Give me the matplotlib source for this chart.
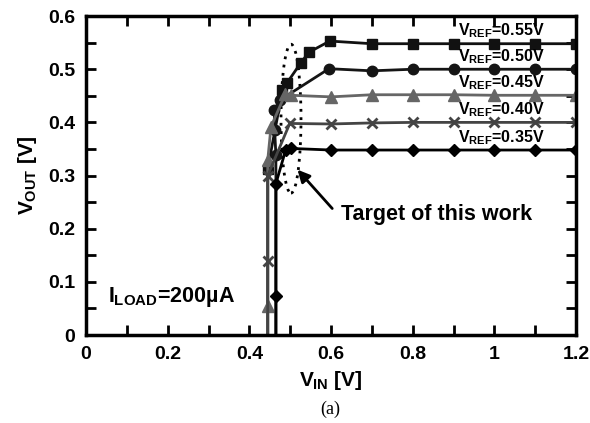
import numpy as np
import matplotlib
matplotlib.use("Agg")
import matplotlib.pyplot as plt
from matplotlib.patches import Ellipse

plt.rcParams["font.family"] = ["Liberation Sans", "DejaVu Sans"]
plt.rcParams["font.weight"] = "bold"
plt.rcParams["mathtext.fontset"] = "custom"
plt.rcParams["mathtext.rm"] = "Liberation Sans:bold"
plt.rcParams["mathtext.it"] = "Liberation Sans:bold"
plt.rcParams["mathtext.bf"] = "Liberation Sans:bold"

# Courbes V_OUT(V_IN), pour chaque V_REF
vin_055 = [0.445, 0.445, 0.481, 0.492, 0.526, 0.546, 0.597, 0.7, 0.8, 0.9, 1.0, 1.1, 1.2]
vout_055 = [-0.05, 0.313, 0.460, 0.474, 0.512, 0.532, 0.553, 0.548, 0.548, 0.548, 0.548, 0.548, 0.548]

vin_050 = [0.465, 0.465, 0.462, 0.461, 0.475, 0.595, 0.7, 0.8, 0.9, 1.0, 1.1, 1.2]
vout_050 = [-0.05, 0.338, 0.385, 0.423, 0.442, 0.501, 0.497, 0.500, 0.500, 0.500, 0.500, 0.500]

vin_045 = [0.445, 0.445, 0.445, 0.453, 0.488, 0.502, 0.6, 0.7, 0.8, 0.9, 1.0, 1.1, 1.2]
vout_045 = [-0.05, 0.055, 0.329, 0.392, 0.453, 0.451, 0.448, 0.452, 0.452, 0.452, 0.451, 0.451, 0.451]

vin_040 = [0.445, 0.445, 0.445, 0.499, 0.6, 0.7, 0.8, 0.9, 1.0, 1.1, 1.2]
vout_040 = [-0.05, 0.140, 0.300, 0.398, 0.397, 0.399, 0.400, 0.400, 0.400, 0.400, 0.400]

vin_035 = [0.465, 0.465, 0.465, 0.489, 0.502, 0.6, 0.7, 0.8, 0.9, 1.0, 1.1, 1.2]
vout_035 = [-0.05, 0.074, 0.285, 0.348, 0.351, 0.348, 0.348, 0.348, 0.348, 0.348, 0.348, 0.348]

vref_labels = ["0.55V", "0.50V", "0.45V", "0.40V", "0.35V"]
vref_levels = [0.548, 0.500, 0.451, 0.400, 0.348]

xticks = [0, 0.2, 0.4, 0.6, 0.8, 1.0, 1.2]
xticklabels = ["0", "0.2", "0.4", "0.6", "0.8", "1", "1.2"]
yticks = [0, 0.1, 0.2, 0.3, 0.4, 0.5, 0.6]
yticklabels = ["0", "0.1", "0.2", "0.3", "0.4", "0.5", "0.6"]

fig = plt.figure(figsize=(5.9, 4.23), dpi=100)
ax = fig.add_axes([0.1458, 0.208, 0.8305, 0.754])

ax.plot(vin_055, vout_055, "s-", color="#111111", lw=2, ms=7)
ax.plot(vin_050, vout_050, "o-", color="#151515", lw=2, ms=7.5)
ax.plot(vin_045, vout_045, "^-", color="#666666", lw=2, ms=8)
ax.plot(vin_040, vout_040, "x-", color="#444444", lw=2, ms=7, mew=2)
ax.plot(vin_035, vout_035, "D-", color="#000000", lw=2, ms=6)

for lab, lev in zip(vref_labels, vref_levels):
    ax.text(0.912, lev + 0.015, "$V_{REF}$=" + lab, fontsize=11.5,
            fontweight="bold", va="baseline", ha="left")

# Zone cible (ellipse pointillée) et flèche
ax.add_patch(Ellipse((0.502, 0.407), 0.049, 0.280, fill=False,
                     linestyle=(0, (1, 2)), lw=2, color="black"))
ax.annotate("", xy=(0.518, 0.311), xytext=(0.603, 0.238),
            arrowprops=dict(arrowstyle="-|>", lw=2, color="black",
                            mutation_scale=18, shrinkA=0, shrinkB=0))
ax.text(0.624, 0.226, "Target of this work", fontsize=15.5,
        fontweight="bold", va="center", ha="left")

ax.text(0.055, 0.063, "$I_{LOAD}$=200µA", fontsize=15.5,
        fontweight="bold", va="baseline", ha="left")

ax.set_xlim(0, 1.2)
ax.set_ylim(0, 0.6)
ax.set_xticks(xticks, xticklabels)
ax.set_yticks(yticks, yticklabels)
ax.set_xticks(np.arange(0.1, 1.2, 0.2), minor=True)
ax.set_yticks(np.arange(0.05, 0.6, 0.1), minor=True)
ax.tick_params(which="both", direction="in", top=True, right=True,
               length=7, width=2, labelsize=14, pad=8)
for lbl in ax.get_xticklabels() + ax.get_yticklabels():
    lbl.set_fontweight("bold")
for sp in ax.spines.values():
    sp.set_linewidth(2.5)

ax.set_xlabel("$V_{IN}$ [V]", fontsize=15, fontweight="bold", labelpad=4)
ax.set_ylabel("$V_{OUT}$ [V]", fontsize=15, fontweight="bold", labelpad=6)
fig.text(0.559, 0.012, "(a)", fontsize=13, family="Liberation Serif",
         fontweight="normal", ha="center", va="bottom")

fig.savefig("out.png", dpi=100)
